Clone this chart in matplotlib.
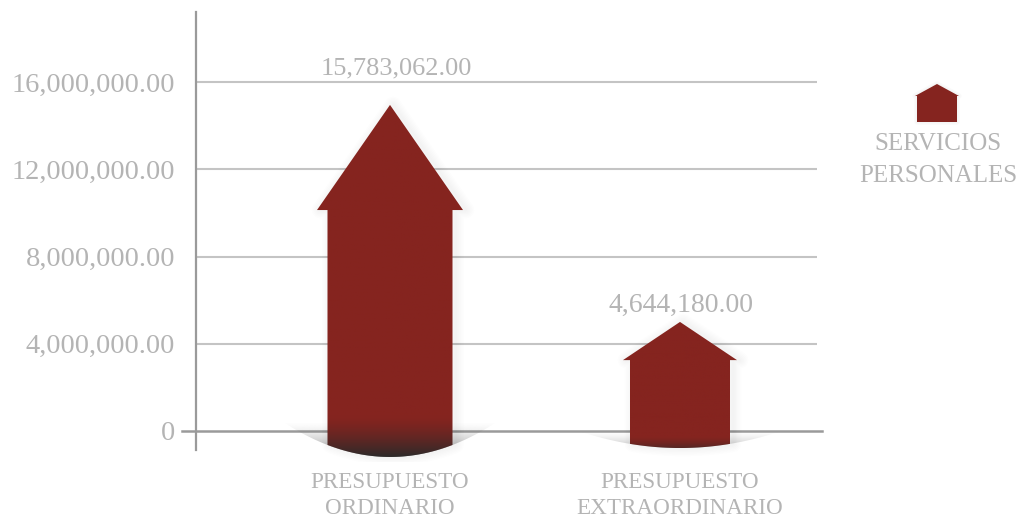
import matplotlib
matplotlib.use('Agg')
import matplotlib.pyplot as plt
import numpy as np
from matplotlib.patches import Polygon
from matplotlib.colors import LinearSegmentedColormap, to_rgb

categories = ['PRESUPUESTO\nORDINARIO', 'PRESUPUESTO\nEXTRAORDINARIO']
values = [15783062, 4644180]
# the arrows in the picture do not reach their real value, so heights are read separately
drawn_tops = [14950000, 5000000]
drawn_shoulders = [10130000, 3250000]
drawn_bottoms = [-1190000, -780000]
side_bottoms = [-640000, -590000]
yticks = [0, 4000000, 8000000, 12000000, 16000000]
legend_label = 'SERVICIOS\nPERSONALES'

RED = '#85241f'
TXT = '#b4b4b4'
W, H = 1018, 521
PX_PER_UNIT = 349 / 16000000
PX_PER_CAT = 290

plt.rcParams['font.family'] = ['Liberation Serif', 'DejaVu Serif']

fig = plt.figure(figsize=(W / 100, H / 100), dpi=100)
ax = fig.add_axes([196 / W, 1 - 462 / H, (817 - 196) / W, (462 - 12) / H])
xlim = ((196 - 390) / PX_PER_CAT, (817 - 390) / PX_PER_CAT)
ylim = (-31 / PX_PER_UNIT, 419 / PX_PER_UNIT)

for s in ['top', 'right', 'bottom']:
    ax.spines[s].set_visible(False)
ax.spines['left'].set_color('#9a9a9a')
ax.spines['left'].set_linewidth(1.6)
ax.spines['left'].set_bounds(-19 / PX_PER_UNIT, 419 / PX_PER_UNIT)

ax.set_yticks(yticks)
ax.set_yticklabels([f'{v:,.2f}' if v else '0' for v in yticks], fontsize=20.5, color=TXT)
ax.set_xticks(range(len(categories)))
ax.set_xticklabels(categories, fontsize=16.7, color=TXT, linespacing=1.36)
ax.tick_params(axis='y', length=0, pad=15)
ax.tick_params(axis='x', length=0, pad=7)

for v in yticks[1:]:
    ax.axhline(v, color='#c4c4c4', lw=1.5, zorder=1)

# zero line sticks out on both sides of the plot
ax.plot([(182 - 390) / PX_PER_CAT, (822 - 390) / PX_PER_CAT], [0, 0], color='#9a9a9a',
        lw=1.8, clip_on=False, zorder=2)

body_fade = LinearSegmentedColormap.from_list('fade', [RED, '#2e2a2a'])

halfwidths = [62.5, 50]
head_halfwidths = [73, 57]
shadow_reach = [1.7, 2.0]
shadow_strength = [0.75, 0.4]
fade_start = [700000, -250000]
shadow_rgb = to_rgb('#6e6e6e')

for i, (top, sh, bot, side) in enumerate(zip(drawn_tops, drawn_shoulders, drawn_bottoms, side_bottoms)):
    hw = halfwidths[i] / PX_PER_CAT
    hh = head_halfwidths[i] / PX_PER_CAT

    # soft curved shadow under the bar, same curve as the bar bottom
    t = np.linspace(-shadow_reach[i], shadow_reach[i], 81)
    sh_pts = list(zip(i + hw * t, bot + (side - bot) * t ** 2))
    sh_top = bot + (side - bot) * shadow_reach[i] ** 2
    sh_poly = Polygon(sh_pts, closed=True, fc='none', ec='none', zorder=2.5)
    ax.add_patch(sh_poly)
    rows = np.linspace(0, 1, 128) ** 1.4 * shadow_strength[i]
    rgba = np.ones((128, 1, 4))
    rgba[..., :3] = shadow_rgb
    rgba[:, 0, 3] = rows
    im = ax.imshow(rgba, origin='upper', aspect='auto', zorder=2.5,
                   extent=[i - hw * shadow_reach[i], i + hw * shadow_reach[i], bot, sh_top])
    im.set_clip_path(sh_poly)

    # arrow outline
    t = np.linspace(1, -1, 41)
    pts = [(i - hw, sh), (i - hh, sh), (i, top), (i + hh, sh), (i + hw, sh)]
    pts += list(zip(i + hw * t, bot + (side - bot) * t ** 2))
    poly = Polygon(pts, closed=True, fc='none', ec='none', zorder=4)
    ax.add_patch(poly)

    # blurred edge shadow, pushed a little to the right
    off = 3 / PX_PER_CAT
    sh_edge = [(x + off, y) for x, y in pts]
    for lw in range(2, 14, 2):
        ax.add_patch(Polygon(sh_edge, closed=True, fc='none', ec='black', lw=lw, alpha=0.009,
                             joinstyle='round', zorder=3))

    # body is flat red, dark only near the bottom
    ys = np.linspace(top, bot, 256)
    ramp = np.clip((fade_start[i] - ys) / (fade_start[i] - bot), 0, 1) ** 1.5 * shadow_strength[i] / 0.75
    fade = ax.imshow(ramp.reshape(-1, 1), cmap=body_fade, vmin=0, vmax=1, origin='upper',
                     extent=[i - hh, i + hh, bot, top], aspect='auto', zorder=4)
    fade.set_clip_path(poly)

ax.set_xlim(xlim)
ax.set_ylim(ylim)

label_dx = [6, 1]
label_dy = [18, 24]
label_size = [19, 20]
for i, v in enumerate(values):
    ax.annotate(f'{v:,.2f}', (i, v), xytext=(label_dx[i] * 0.72, label_dy[i] * 0.72),
                textcoords='offset points', ha='center', va='center',
                fontsize=label_size[i], color=TXT, zorder=6)


def px(x, y):
    return x / W, 1 - y / H


# legend swatch and text
house = [px(917, 96), px(915, 96), px(937, 84), px(959, 96), px(957, 96), px(957, 122), px(917, 122)]
for lw in (2, 4):
    fig.add_artist(Polygon(house, closed=True, fc='none', ec='black', lw=lw, alpha=0.02,
                           joinstyle='round', transform=fig.transFigure))
fig.add_artist(Polygon(house, closed=True, fc=RED, ec='none', transform=fig.transFigure))
fig.text(938 / W, 1 - 160 / H, legend_label, ha='center', va='center', fontsize=18,
         color=TXT, linespacing=1.62)

fig.savefig('out.png', dpi=100)
